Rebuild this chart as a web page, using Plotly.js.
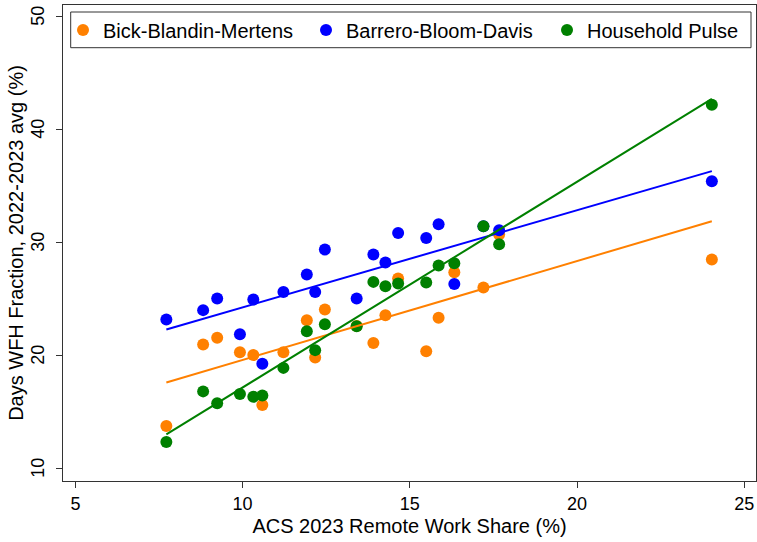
<!DOCTYPE html>
<html>
<head>
<meta charset="utf-8">
<script src="https://cdn.plot.ly/plotly-3.0.1.min.js"></script>
<style>
  html, body { margin: 0; padding: 0; background: #fff; }
  #chart { width: 757px; height: 542px; }
</style>
</head>
<body>
<div id="chart"></div>
<script>
// ACS 2023 remote work share (%), one value per unit
const acsShare = [7.72, 8.82, 9.24, 9.92, 10.32, 10.59, 11.22, 11.92, 12.17, 12.46,
                  13.41, 13.91, 14.27, 14.65, 15.49, 15.86, 16.33, 17.20, 17.67, 24.03];

// Days WFH fraction, 2022-2023 average (%), by survey
const bbmDays = [13.74, 20.96, 21.55, 20.28, 20.02, 15.60, 20.28, 23.11, 19.81, 24.06,
                 22.60, 21.10, 23.55, 26.80, 20.37, 23.32, 27.36, 26.00, 30.69, 28.48];
const bbdDays = [23.17, 24.00, 25.03, 21.87, 24.94, 19.25, 25.61, 27.15, 25.61, 29.36,
                 25.03, 28.92, 28.21, 30.83, 30.39, 31.60, 26.32, 31.42, 31.07, 35.40];
const hpDays  = [12.33, 16.81, 15.75, 16.57, 16.33, 16.45, 18.89, 22.14, 20.46, 22.76,
                 22.58, 26.50, 26.12, 26.36, 26.45, 27.95, 28.15, 31.42, 29.83, 42.18];

// Linear-fit lines over the observed x span
const fitX   = [7.72, 24.03];
const fitBBM = [17.60, 31.87];
const fitBBD = [22.29, 36.30];
const fitHP  = [13.00, 42.70];

const seriesNames = ['Bick-Blandin-Mertens', 'Barrero-Bloom-Davis', 'Household Pulse'];
const xTicks = [5, 10, 15, 20, 25];
const yTicks = [10, 20, 30, 40, 50];

const colors = ['rgb(255,128,0)', 'rgb(0,0,255)', 'rgb(0,128,0)'];
const pointSets = [bbmDays, bbdDays, hpDays];
const fitSets = [fitBBM, fitBBD, fitHP];
const entryWidths = [198, 196, 150];

const font = 'Liberation Sans, Arial, Helvetica, sans-serif';

const traces = [];
pointSets.forEach((ys, i) => {
  traces.push({
    type: 'scatter', mode: 'markers',
    x: acsShare, y: ys, name: seriesNames[i],
    legendwidth: entryWidths[i],
    marker: { color: colors[i], size: 12 },
    hoverinfo: 'x+y'
  });
});
fitSets.forEach((ys, i) => {
  traces.push({
    type: 'scatter', mode: 'lines',
    x: fitX, y: ys, showlegend: false,
    line: { color: colors[i], width: 2 },
    hoverinfo: 'skip'
  });
});

const W = 757, H = 542;
const m = { l: 63, r: 1, t: 5, b: 61 };
const pw = W - m.l - m.r, ph = H - m.t - m.b;
// pixel positions converted to paper units
const px = v => (v - m.l) / pw;
const py = v => 1 - (v - m.t) / ph;

// vertical y tick labels, placed on the y scale
const yLabels = yTicks.map(v => ({
  xref: 'paper', yref: 'y', x: px(38.5), y: v,
  xanchor: 'center', yanchor: 'middle',
  text: String(v), textangle: -90, showarrow: false,
  font: { family: font, size: 18, color: '#000' }
}));

const layout = {
  width: W, height: H,
  margin: m,
  paper_bgcolor: '#fff', plot_bgcolor: '#fff',
  font: { family: font, color: '#000', size: 18 },
  showlegend: true,
  legend: {
    orientation: 'h',
    x: 0, xanchor: 'left',
    y: py(29.9), yanchor: 'middle',
    bgcolor: 'rgba(0,0,0,0)', borderwidth: 0,
    font: { family: font, size: 20, color: '#000' },
    entrywidthmode: 'pixels',
    itemclick: false, itemdoubleclick: false
  },
  annotations: yLabels,
  shapes: [{
    type: 'rect', xref: 'paper', yref: 'paper',
    x0: px(70.7), x1: px(751), y0: py(47.7), y1: py(12),
    line: { color: '#333', width: 1 }, fillcolor: 'rgba(0,0,0,0)',
    layer: 'above'
  }],
  xaxis: {
    range: [4.63, 25.35],
    tickvals: xTicks, ticktext: xTicks.map(String),
    ticks: 'outside', ticklen: 6, tickwidth: 1, tickcolor: '#333',
    showgrid: false, zeroline: false,
    showline: true, linecolor: '#333', linewidth: 1, mirror: true,
    tickfont: { family: font, size: 18, color: '#000' },
    automargin: false,
    title: { text: 'ACS 2023 Remote Work Share (%)', font: { family: font, size: 20, color: '#000' }, standoff: 6 }
  },
  yaxis: {
    range: [8.88, 51.0],
    tickvals: yTicks,
    showticklabels: false,
    ticks: 'outside', ticklen: 6, tickwidth: 1, tickcolor: '#333',
    showgrid: false, zeroline: false,
    showline: true, linecolor: '#333', linewidth: 1, mirror: true,
    automargin: false,
    title: { text: 'Days WFH Fraction, 2022-2023 avg (%)', font: { family: font, size: 20, color: '#000' }, standoff: 27 }
  }
};

Plotly.newPlot('chart', traces, layout, { displayModeBar: false, staticPlot: true });
</script>
</body>
</html>
